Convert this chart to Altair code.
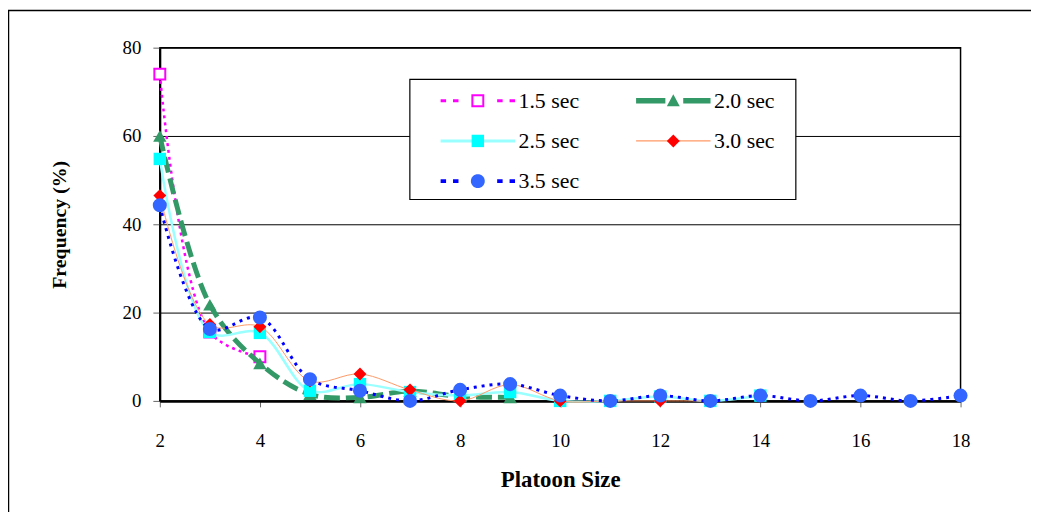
import math
import altair as alt
import pandas as pd

# ---------------- data ----------------
series_names = ["1.5 sec", "2.0 sec", "2.5 sec", "3.0 sec", "3.5 sec"]

sizes_15 = [2, 3, 4]
freq_15 = [74.0, 15.6, 10.0]

sizes_20 = [2, 3, 4, 5, 6, 7, 8, 9]
freq_20 = [60.0, 21.8, 8.5, 1.5, 0.8, 2.2, 1.0, 0.8]

sizes_25 = [2, 3, 4, 5, 6, 7, 8, 9, 10, 11, 12, 13, 14]
freq_25 = [54.8, 15.6, 15.4, 2.3, 3.8, 2.0, 1.2, 2.0, 0.0, 0.0, 1.0, 0.0, 1.2]

sizes_30 = [2, 3, 4, 5, 6, 7, 8, 9, 10, 11, 12, 13]
freq_30 = [46.5, 17.3, 16.8, 4.5, 6.1, 2.5, 0.0, 3.7, 0.0, 0.0, 0.0, 0.0]

sizes_35 = [2, 3, 4, 5, 6, 7, 8, 9, 10, 11, 12, 13, 14, 15, 16, 17, 18]
freq_35 = [44.3, 16.3, 18.9, 4.9, 2.3, 0.0, 2.5, 3.8, 1.2, 0.0, 1.2, 0.0, 1.2, 0.0, 1.2, 0.0, 1.2]

x_ticks = [2, 4, 6, 8, 10, 12, 14, 16, 18]
y_ticks = [0, 20, 40, 60, 80]

series_data = {
    "1.5 sec": (sizes_15, freq_15),
    "2.0 sec": (sizes_20, freq_20),
    "2.5 sec": (sizes_25, freq_25),
    "3.0 sec": (sizes_30, freq_30),
    "3.5 sec": (sizes_35, freq_35),
}
rows = []
for name in series_names:
    xs, ys = series_data[name]
    for xv, yv in zip(xs, ys):
        rows.append({"series": name, "size": xv, "freq": yv})
df = pd.DataFrame(rows)

# ---------------- styles ----------------
STYLE = {
    "1.5 sec": dict(line="#FF00FF", width=2.5, dash=[3, 4], shape="square", msize=121,
                    mfill="white", mstroke="#FF00FF", mstrokew=2, legfill="#FF00FF"),
    "2.0 sec": dict(line="#339966", width=5, dash=[16, 6], shape="triangle-up", msize=180,
                    mfill="#339966", legfill="#339966"),
    "2.5 sec": dict(line="#99FFFF", width=2.5, dash=None, shape="square", msize=156,
                    mfill="#00FFFF", legfill="#00FFFF"),
    "3.0 sec": dict(line="#FF9966", width=1, dash=None, shape="diamond", msize=169,
                    mfill="#FF0000", legfill="#FF0000"),
    "3.5 sec": dict(line="#0000FF", width=3, dash=[3, 5], shape="circle", msize=200,
                    mfill="#3366FF", legfill="#3366FF"),
}

FONT = "Liberation Serif"

x_enc = alt.X(
    "size:Q",
    title="Platoon Size",
    scale=alt.Scale(domain=[2, 18], nice=False, zero=False),
    axis=alt.Axis(values=x_ticks, grid=False, format="d", domainColor="black", domainWidth=2.5,
                  tickColor="#666666", tickSize=6, tickWidth=1, labelFontSize=19, labelPadding=25,
                  labelColor="black", labelFont=FONT, labelFlush=False,
                  titleFont=FONT, titleFontSize=23, titleFontWeight="bold", titleColor="black",
                  titlePadding=18),
)
y_enc = alt.Y(
    "freq:Q",
    title="Frequency (%)",
    scale=alt.Scale(domain=[0, 80], nice=False),
    axis=alt.Axis(values=y_ticks, grid=True, gridColor="black", gridWidth=1, domainColor="black",
                  domainWidth=2, tickColor="#666666", tickSize=7, tickWidth=1, labelFontSize=19,
                  labelPadding=12, labelColor="black", labelFont=FONT,
                  titleFont=FONT, titleFontSize=20, titleFontWeight="bold", titleColor="black",
                  titlePadding=53),
)

base = alt.Chart(df)
layers = []

# outer picture frame and legend box (decorations)
deco = alt.Data(values=[{"k": 0}])
frame = alt.Chart(deco).mark_rect(
    filled=False, stroke="black", strokeWidth=1.5
).encode(x=alt.value(-152.5), x2=alt.value(1400), y=alt.value(-37.5), y2=alt.value(900))
legend_box = alt.Chart(deco).mark_rect(
    fill="white", stroke="black", strokeWidth=1.2
).encode(x=alt.value(252), x2=alt.value(641), y=alt.value(32), y2=alt.value(153))
layers += [frame, legend_box]

for name in series_names:
    st = STYLE[name]
    sub = base.transform_filter(alt.datum.series == name)
    line_kw = dict(color=st["line"], strokeWidth=st["width"], interpolate="catmull-rom")
    if st["dash"]:
        line_kw["strokeDash"] = st["dash"]
    layers.append(sub.mark_line(**line_kw).encode(x=x_enc, y=y_enc))
    pt_kw = dict(shape=st["shape"], size=st["msize"], filled=True, fill=st["mfill"], opacity=1)
    if "mstroke" in st:
        pt_kw["stroke"] = st["mstroke"]
        pt_kw["strokeWidth"] = st["mstrokew"]
    else:
        pt_kw["strokeWidth"] = 0
    layers.append(sub.mark_point(**pt_kw).encode(x=x_enc, y=y_enc))

# ---------------- legend symbols (custom symbol paths, 1 unit = 5 px) ----------------
U = 5.0


def pt(x, y):
    return f"{x / U:.3f},{y / U:.3f}"


def poly(points):
    return "M" + "L".join(pt(x, y) for x, y in points) + "Z"


def bar(x0, x1, hw):
    return poly([(x0, -hw), (x1, -hw), (x1, hw), (x0, hw)])


def bounds(right):
    return f"M{pt(-60, -27.5)}M{pt(right, 12)}"


dots = [(-37.5, -32), (-25, -19.5), (19.5, 25), (32, 37.5)]
LEG_LINE = {
    "1.5 sec": ("#FF00FF", "".join(bar(a, b, 1.5) for a, b in dots)),
    "2.0 sec": ("#339966", bar(-37.5, -8, 2.75) + bar(10, 37.5, 2.75)),
    "2.5 sec": ("#99FFFF", bar(-37.5, -5, 1.5) + bar(5, 37.5, 1.5)),
    "3.0 sec": ("#FF9966", bar(-37.5, -5, 0.6) + bar(5, 37.5, 0.6)),
    "3.5 sec": ("#0000FF", "".join(bar(a, b, 2) for a, b in dots)),
}
circle = [(7 * math.cos(2 * math.pi * k / 32), 7 * math.sin(2 * math.pi * k / 32)) for k in range(32)]
LEG_MARK = {
    "1.5 sec": poly([(-6.5, -6.5), (6.5, -6.5), (6.5, 6.5), (-6.5, 6.5)])
               + poly([(-4.5, -4.5), (-4.5, 4.5), (4.5, 4.5), (4.5, -4.5)]),
    "2.0 sec": poly([(0, -6.5), (6.5, 5.5), (-6.5, 5.5)]),
    "2.5 sec": poly([(-6.25, -6.25), (6.25, -6.25), (6.25, 6.25), (-6.25, 6.25)]),
    "3.0 sec": poly([(0, -6.5), (6.5, 0), (0, 6.5), (-6.5, 0)]),
    "3.5 sec": poly(circle),
}
RIGHT = {"1.5 sec": 131, "2.5 sec": 131, "3.5 sec": 131, "2.0 sec": 129, "3.0 sec": 129}

line_paths = [bounds(RIGHT[n]) + LEG_LINE[n][1] for n in series_names]
line_cols = [LEG_LINE[n][0] for n in series_names]
mark_paths = [bounds(RIGHT[n]) + LEG_MARK[n] for n in series_names]
mark_cols = [STYLE[n]["legfill"] for n in series_names]

leg_common = dict(title=None, orient="none", legendX=252, legendY=40, columns=2,
                  direction="horizontal",
                  columnPadding=0, rowPadding=0.5, padding=2.5, symbolSize=100,
                  symbolStrokeWidth=0, symbolOffset=55, labelOffset=30, labelFont=FONT,
                  labelFontSize=22, labelLimit=400, symbolOpacity=1, labelBaseline="middle")

leg_a = alt.Legend(labelColor="black", **leg_common)
leg_b = alt.Legend(labelColor="black", labelOpacity=0, **leg_common)

legend_lines = base.transform_filter("datum.freq < -1").mark_point(
    filled=True, opacity=1, size=100, strokeWidth=0
).encode(
    x=x_enc, y=y_enc,
    shape=alt.Shape("series:N", scale=alt.Scale(domain=series_names, range=line_paths), legend=leg_a),
    fill=alt.Fill("series:N", scale=alt.Scale(domain=series_names, range=line_cols), legend=leg_a),
)
legend_marks = base.transform_filter("datum.freq < -1").transform_calculate(
    marker="datum.series"
).mark_point(filled=True, opacity=1, size=100, strokeWidth=0).encode(
    x=x_enc, y=y_enc,
    shape=alt.Shape("marker:N", scale=alt.Scale(domain=series_names, range=mark_paths), legend=leg_b),
    fill=alt.Fill("marker:N", scale=alt.Scale(domain=series_names, range=mark_cols), legend=leg_b),
)
layers += [legend_lines, legend_marks]

chart = alt.layer(*layers).resolve_scale(
    shape="independent", fill="independent"
).properties(
    width=807, height=356,
    padding={"left": 153, "top": 38, "right": 71, "bottom": 110},
    autosize=alt.AutoSizeParams(type="none"),
).configure(font=FONT).configure_view(stroke="black", strokeWidth=1.5)

chart.save("out.html", embed_options={"renderer": "svg", "actions": False})
